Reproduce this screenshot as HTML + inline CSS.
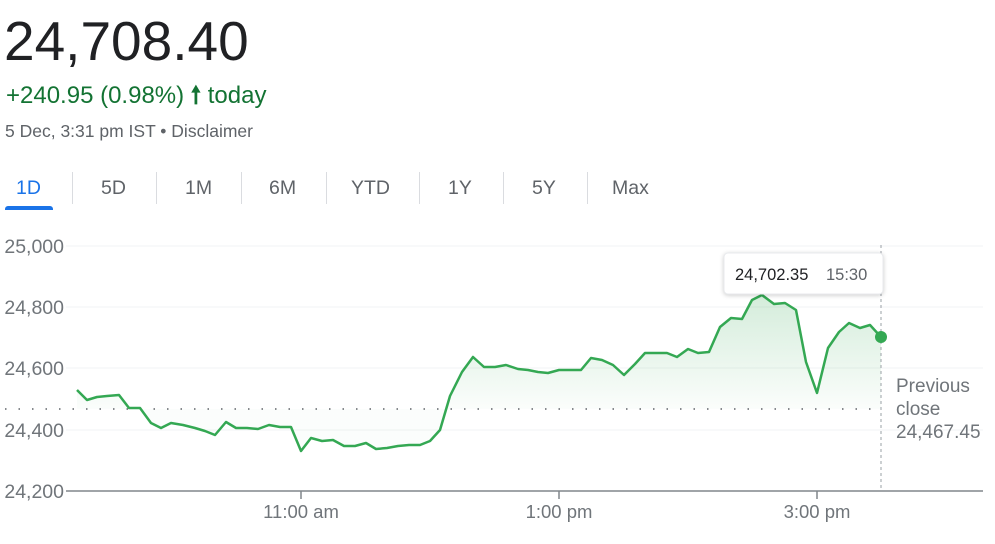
<!DOCTYPE html>
<html><head><meta charset="utf-8"><style>
body{margin:0;width:995px;height:544px;background:#fff;font-family:"Liberation Sans",Arial,sans-serif;position:relative;overflow:hidden}
.a{position:absolute;white-space:nowrap}
.tab{position:absolute;top:177px;font-size:19.5px;color:#5f6368}
.sep{position:absolute;top:172px;width:1px;height:32px;background:#dadce0}
</style></head><body>
<div class="a" style="left:4px;top:9px;font-size:55px;color:#202124">24,708.40</div>
<div class="a" style="left:6px;top:78px;font-size:24px;color:#137333">+240.95 (0.98%) <span style="font-weight:bold">&#129045;</span> today</div>
<div class="a" style="left:5px;top:121px;font-size:17.5px;color:#5f6368">5 Dec, 3:31 pm IST • Disclaimer</div>
<div class="tab" style="left:16px;color:#1a73e8">1D</div>
<div class="a" style="left:5px;top:206px;width:48px;height:4px;background:#1a73e8;border-radius:3px 3px 0 0"></div>
<div class="sep" style="left:72px"></div><div class="tab" style="left:101px">5D</div>
<div class="sep" style="left:156px"></div><div class="tab" style="left:185px">1M</div>
<div class="sep" style="left:241px"></div><div class="tab" style="left:269px">6M</div>
<div class="sep" style="left:326px"></div><div class="tab" style="left:351px">YTD</div>
<div class="sep" style="left:419px"></div><div class="tab" style="left:448px">1Y</div>
<div class="sep" style="left:503px"></div><div class="tab" style="left:532px">5Y</div>
<div class="sep" style="left:587px"></div><div class="tab" style="left:612px">Max</div>
<svg class="a" style="left:0;top:0" width="995" height="544">
<defs><linearGradient id="g" gradientUnits="userSpaceOnUse" x1="0" y1="290" x2="0" y2="409"><stop offset="0" stop-color="#34a853" stop-opacity="0.22"/><stop offset="1" stop-color="#34a853" stop-opacity="0.02"/></linearGradient></defs>
<g stroke="#f1f3f4" stroke-width="1"><line x1="66" y1="246" x2="983" y2="246"/><line x1="66" y1="307" x2="983" y2="307"/><line x1="66" y1="368" x2="983" y2="368"/><line x1="66" y1="430" x2="983" y2="430"/></g>
<g font-size="19.5" fill="#70757a" text-anchor="end"><text x="64" y="253">25,000</text><text x="64" y="314">24,800</text><text x="64" y="375">24,600</text><text x="64" y="437">24,400</text><text x="64" y="498">24,200</text></g>
<polygon fill="url(#g)" points="77,409 77,390 87,400 97,397 107,396 119,395 129,408 140,408 151,423 161,428 171,423 183,425 195,428 205,431 215,435 226,422 236,428 247,428 258,429 269,425 280,427 291,427 301,451 311,438 322,441 333,440 344,446 355,446 366,443 376,449 387,448 398,446 409,445 420,445 430,441 440,430 450,396 462,372 473,357 484,367 495,367 506,365 518,369 528,370 538,372 548,373 559,370 570,370 581,370 591,358 602,360 613,365 624,375 635,364 645,353 656,353 667,353 677,357 688,349 698,353 709,352 720,327 731,318 742,319 752,300 762,295 774,304 785,303 796,310 806,362 817,393 828,348 839,332 849,323 860,328 870,325 881,337 881,409"/>
<line x1="5" y1="409" x2="881" y2="409" stroke="#5f6368" stroke-width="1.5" stroke-dasharray="1.5 12"/>
<line x1="881" y1="245" x2="881" y2="491" stroke="#9aa0a6" stroke-width="1" stroke-dasharray="3 3"/>
<polyline fill="none" stroke="#34a853" stroke-width="2.5" stroke-linejoin="round" points="77,390 87,400 97,397 107,396 119,395 129,408 140,408 151,423 161,428 171,423 183,425 195,428 205,431 215,435 226,422 236,428 247,428 258,429 269,425 280,427 291,427 301,451 311,438 322,441 333,440 344,446 355,446 366,443 376,449 387,448 398,446 409,445 420,445 430,441 440,430 450,396 462,372 473,357 484,367 495,367 506,365 518,369 528,370 538,372 548,373 559,370 570,370 581,370 591,358 602,360 613,365 624,375 635,364 645,353 656,353 667,353 677,357 688,349 698,353 709,352 720,327 731,318 742,319 752,300 762,295 774,304 785,303 796,310 806,362 817,393 828,348 839,332 849,323 860,328 870,325 881,337"/>
<circle cx="881" cy="337" r="6" fill="#34a853"/>
<line x1="66" y1="491" x2="983" y2="491" stroke="#80868b" stroke-width="1.5"/>
<g stroke="#80868b" stroke-width="1.5"><line x1="301" y1="491" x2="301" y2="499"/><line x1="559" y1="491" x2="559" y2="499"/><line x1="817" y1="491" x2="817" y2="499"/></g>
<g font-size="18.5" fill="#70757a" text-anchor="middle"><text x="301" y="518">11:00 am</text><text x="559" y="518">1:00 pm</text><text x="817" y="518">3:00 pm</text></g>
<g font-size="19" fill="#70757a"><text x="896" y="392">Previous</text><text x="896" y="415">close</text><text x="896" y="438">24,467.45</text></g>
<rect x="724" y="253" width="159" height="41" rx="4" fill="#fff" stroke="#e8eaed" style="filter:drop-shadow(0 1px 2px rgba(0,0,0,.2))"/>
<text x="735" y="280" font-size="16.5" fill="#202124">24,702.35</text>
<text x="826" y="280" font-size="16.5" fill="#5f6368">15:30</text>
</svg>
</body></html>
